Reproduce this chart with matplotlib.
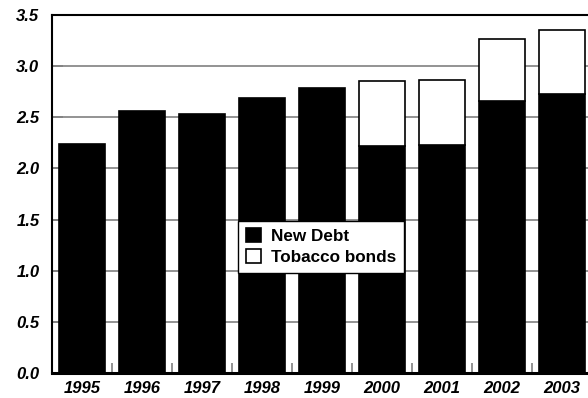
import matplotlib.pyplot as plt
import numpy as np

# Datos
years = ["1995", "1996", "1997", "1998", "1999", "2000", "2001", "2002", "2003"]
new_debt = [2.24, 2.56, 2.53, 2.69, 2.79, 2.22, 2.23, 2.66, 2.73]
tobacco = [0.0, 0.0, 0.0, 0.0, 0.0, 0.63, 0.63, 0.61, 0.62]

plt.rcParams['font.family'] = ['Liberation Sans', 'DejaVu Sans']

fig = plt.figure(figsize=(5.88, 3.98), dpi=100)
ax = fig.add_axes([52 / 588, 25 / 398, 540 / 588, 358 / 398])

x = np.arange(len(years))
ax.bar(x, new_debt, width=0.77, color="black", edgecolor="black", linewidth=1.2,
       label="New Debt", zorder=3)
tob_idx = [i for i, v in enumerate(tobacco) if v > 0]
ax.bar(x[tob_idx], [tobacco[i] for i in tob_idx], width=0.77,
       bottom=[new_debt[i] for i in tob_idx], color="white", edgecolor="black",
       linewidth=1.2, label="Tobacco bonds", zorder=3)

ax.set_ylim(0, 3.5)
ax.set_xlim(-0.5, 8.5)
ax.set_yticks(np.arange(0, 3.51, 0.5))
ax.set_yticklabels([f"{v:.1f}" for v in np.arange(0, 3.51, 0.5)],
                   fontsize=12, fontweight="bold", fontstyle="italic")
ax.set_xticks(x)
ax.set_xticklabels(years, fontsize=12, fontweight="bold", fontstyle="italic")
ax.set_xticks(x[:-1] + 0.5, minor=True)

ax.yaxis.grid(True, color="#808080", linewidth=1.2, zorder=0)
ax.tick_params(axis="y", direction="in", length=8, color="#808080", width=1.2, pad=9)
ax.tick_params(axis="x", which="major", length=0, pad=6)
ax.tick_params(axis="x", which="minor", direction="in", length=7, color="#808080", width=1.2)

ax.spines["right"].set_visible(False)
ax.spines["left"].set_linewidth(1.5)
ax.spines["top"].set_linewidth(1.5)
ax.spines["bottom"].set_linewidth(2.2)
for s in ax.spines.values():
    s.set_zorder(5)

leg = ax.legend(loc="lower left", bbox_to_anchor=(0.345, 0.28), fancybox=False,
                edgecolor="black", framealpha=1, prop={"weight": "bold", "size": 12.3},
                handlelength=0.85, handleheight=0.85, handletextpad=0.6,
                borderpad=0.45, labelspacing=0.3, borderaxespad=0)
leg.get_frame().set_linewidth(1.0)
leg.set_zorder(6)

fig.savefig("out.png", dpi=100)
